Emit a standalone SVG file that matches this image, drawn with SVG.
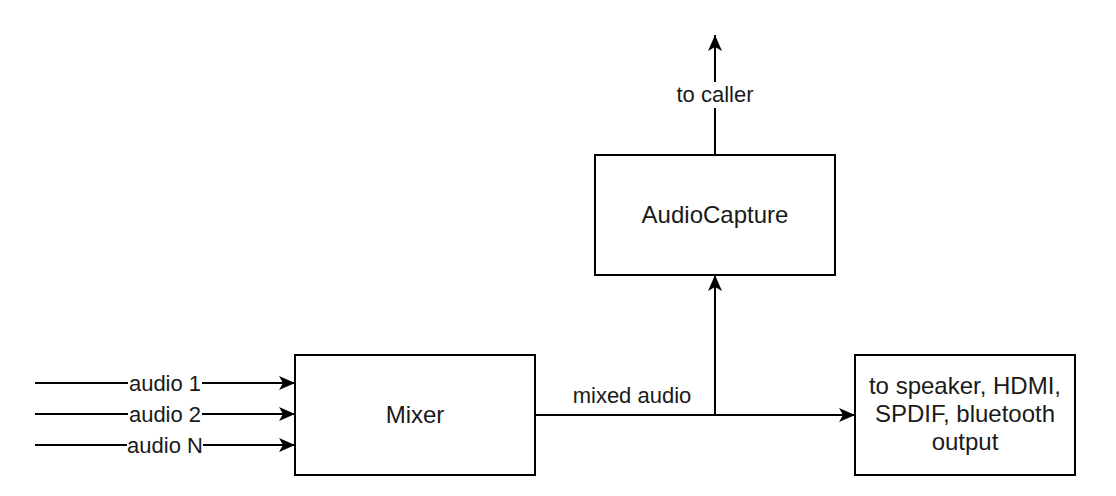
<svg xmlns="http://www.w3.org/2000/svg" width="1116" height="496" viewBox="0 0 1116 496">
<style>
.box{fill:#fff;stroke:#000;stroke-width:2}
.edge{fill:none;stroke:#000;stroke-width:2}
.bl{font-family:"Liberation Sans",Arial,sans-serif;font-size:24px;fill:#1a1a1a;text-anchor:middle}
.el{font-family:"Liberation Sans",Arial,sans-serif;font-size:22px;fill:#1a1a1a;text-anchor:middle}
.lbg{fill:#fff;stroke:none}
</style>
<defs>
<marker id="arr" markerUnits="userSpaceOnUse" markerWidth="16" markerHeight="14" refX="16" refY="7" orient="auto" overflow="visible">
<path d="M0,0 L16,7 L0,14 L4,7 Z" fill="#000"/>
</marker>
</defs>
<rect width="1116" height="496" fill="#fff"/>
<g id="connectors">
<g id="e-audio1">
<line class="edge" x1="35" y1="383" x2="295" y2="383" marker-end="url(#arr)"/>
<rect class="lbg" x="128" y="371" width="74" height="24"/>
<text class="el" x="165" y="391">audio 1</text>
</g>
<g id="e-audio2">
<line class="edge" x1="35" y1="414" x2="295" y2="414" marker-end="url(#arr)"/>
<rect class="lbg" x="128" y="402" width="74" height="24"/>
<text class="el" x="165" y="422">audio 2</text>
</g>
<g id="e-audioN">
<line class="edge" x1="35" y1="445" x2="295" y2="445" marker-end="url(#arr)"/>
<rect class="lbg" x="127" y="433" width="76" height="24"/>
<text class="el" x="165" y="453">audio N</text>
</g>
<g id="e-mixed">
<line class="edge" x1="535" y1="415" x2="855" y2="415" marker-end="url(#arr)"/>
<text class="el" x="632" y="403">mixed audio</text>
</g>
<g id="e-capture">
<line class="edge" x1="715" y1="415" x2="715" y2="275" marker-end="url(#arr)"/>
</g>
<g id="e-caller">
<line class="edge" x1="715" y1="155" x2="715" y2="35" marker-end="url(#arr)"/>
<rect class="lbg" x="674" y="82" width="82" height="26"/>
<text class="el" x="715" y="102">to caller</text>
</g>
</g>
<g id="mixer">
<rect class="box" x="295" y="355" width="240" height="120"/>
<text class="bl" x="415" y="423">Mixer</text>
</g>
<g id="audiocapture">
<rect class="box" x="595" y="155" width="240" height="120"/>
<text class="bl" x="715" y="223">AudioCapture</text>
</g>
<g id="output">
<rect class="box" x="855" y="355" width="220" height="120"/>
<text class="bl" x="965" y="394">to speaker, HDMI,</text>
<text class="bl" x="965" y="422">SPDIF, bluetooth</text>
<text class="bl" x="965" y="450">output</text>
</g>
</svg>
